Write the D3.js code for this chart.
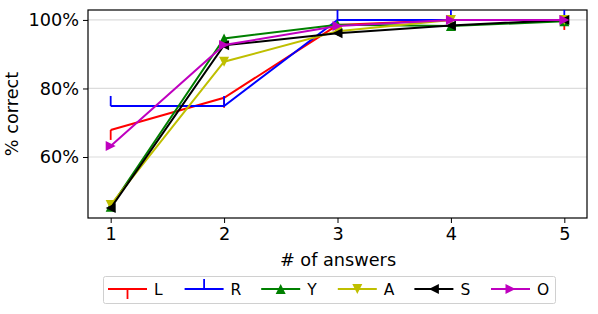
<!DOCTYPE html>
<html>
<head>
<meta charset="utf-8">
<script src="https://cdn.jsdelivr.net/npm/d3@7"></script>
<style>
  body { margin: 0; background: #fff; }
  svg { font-family: "DejaVu Sans", sans-serif; }
</style>
</head>
<body>
<div id="chart"></div>
<script>
// données
const answers = [1, 2, 3, 4, 5];
const yTicks = [60, 80, 100];
const seriesNames = ["L", "R", "Y", "A", "S", "O"];
const seriesColors = ["#ff0000", "#0000ff", "#008000", "#bfbf00", "#000000", "#bf00bf"];
const seriesMarkers = ["tickdown", "tickup", "triUp", "triDown", "triLeft", "triRight"];
const valuesL = [67.9, 77.3, 98.5, 100, 100];
const valuesR = [74.9, 74.9, 100, 100, 100];
const valuesY = [45.5, 94.6, 98.6, 98.2, 99.6];
const valuesA = [46.0, 87.8, 96.7, 100, 100];
const valuesS = [45.1, 92.6, 96.1, 98.4, 100];
const valuesO = [63.2, 92.7, 98.2, 100, 100];
const seriesValues = [valuesL, valuesR, valuesY, valuesA, valuesS, valuesO];

const W = 598, H = 314;
const margin = { left: 88, right: 11, top: 10, bottom: 96 };
const fontSize = 17.7;

const svg = d3.select('#chart').append('svg')
    .attr('width', W).attr('height', H);

const x = d3.scaleLinear().domain([0.8, 5.2]).range([margin.left, W - margin.right]);
const y = d3.scaleLinear().domain([42.2, 102.9]).range([H - margin.bottom, margin.top]);

// ── Grille horizontale ──
svg.append('g').selectAll('line')
    .data(yTicks)
    .join('line')
    .attr('x1', x.range()[0]).attr('x2', x.range()[1])
    .attr('y1', d => y(d)).attr('y2', d => y(d))
    .attr('stroke', '#dcdcdc').attr('stroke-width', 1.2);

// ── Axes ──
const xAxis = svg.append('g')
    .attr('transform', `translate(0,${y.range()[0]})`)
    .call(d3.axisBottom(x).tickValues(answers).tickFormat(d3.format('d')).tickSize(5).tickPadding(4));
const yAxis = svg.append('g')
    .attr('transform', `translate(${x.range()[0]},0)`)
    .call(d3.axisLeft(y).tickValues(yTicks).tickFormat(d => d + '%').tickSize(5).tickPadding(4));
[xAxis, yAxis].forEach(a => {
    a.select('.domain').remove();
    a.selectAll('text').attr('font-size', fontSize).attr('fill', '#000')
        .attr('font-family', '"DejaVu Sans", sans-serif');
    a.selectAll('line').attr('stroke', '#000').attr('stroke-width', 1);
});

// cadre
svg.append('rect')
    .attr('x', x.range()[0]).attr('y', y.range()[1])
    .attr('width', x.range()[1] - x.range()[0])
    .attr('height', y.range()[0] - y.range()[1])
    .attr('fill', 'none').attr('stroke', '#000').attr('stroke-width', 1.2);

// ── Marqueurs ──
function drawMarker(g, kind, color, cx, cy) {
    const s = 5;
    if (kind === 'tickdown' || kind === 'tickup') {
        const dir = kind === 'tickdown' ? 1 : -1;
        g.append('line')
            .attr('x1', cx).attr('x2', cx)
            .attr('y1', cy).attr('y2', cy + dir * 10)
            .attr('stroke', color).attr('stroke-width', 1.8);
        return;
    }
    let pts;
    if (kind === 'triUp') pts = [[0, -s], [-s, s], [s, s]];
    else if (kind === 'triDown') pts = [[0, s], [-s, -s], [s, -s]];
    else if (kind === 'triLeft') pts = [[-s, 0], [s, -s], [s, s]];
    else pts = [[s, 0], [-s, -s], [-s, s]];
    g.append('polygon')
        .attr('points', pts.map(p => [cx + p[0], cy + p[1]].join(',')).join(' '))
        .attr('fill', color);
}

const line = d3.line().x((d, i) => x(answers[i])).y(d => y(d));

seriesValues.forEach((vals, k) => {
    const g = svg.append('g');
    g.append('path')
        .attr('d', line(vals))
        .attr('fill', 'none')
        .attr('stroke', seriesColors[k])
        .attr('stroke-width', 2);
    vals.forEach((v, i) => drawMarker(g, seriesMarkers[k], seriesColors[k], x(answers[i]), y(v)));
});

// ── Titres d'axes ──
svg.append('text')
    .attr('x', (x.range()[0] + x.range()[1]) / 2 + 0.5)
    .attr('y', 266)
    .attr('text-anchor', 'middle')
    .attr('font-size', fontSize)
    .text('# of answers');
svg.append('text')
    .attr('transform', `translate(17.5,${(y.range()[0] + y.range()[1]) / 2}) rotate(-90)`)
    .attr('text-anchor', 'middle')
    .attr('font-size', fontSize)
    .text('% correct');

// ── Légende ──
const legend = svg.append('g');
legend.append('rect')
    .attr('x', 103.5).attr('y', 276.5)
    .attr('width', 452).attr('height', 27)
    .attr('rx', 2)
    .attr('fill', '#fff').attr('stroke', '#d0d0d0').attr('stroke-width', 1);
const legendX = d3.scalePoint().domain(seriesNames).range([108, 491]);
seriesNames.forEach((name, k) => {
    const g = legend.append('g');
    const lx = legendX(name), ly = 289;
    g.append('line')
        .attr('x1', lx).attr('x2', lx + 39)
        .attr('y1', ly).attr('y2', ly)
        .attr('stroke', seriesColors[k]).attr('stroke-width', 2);
    drawMarker(g, seriesMarkers[k], seriesColors[k], lx + 19.5, ly);
    g.append('text')
        .attr('x', lx + 46).attr('y', ly + 5.5)
        .attr('font-size', 15.5)
        .text(name);
});
</script>
</body>
</html>
